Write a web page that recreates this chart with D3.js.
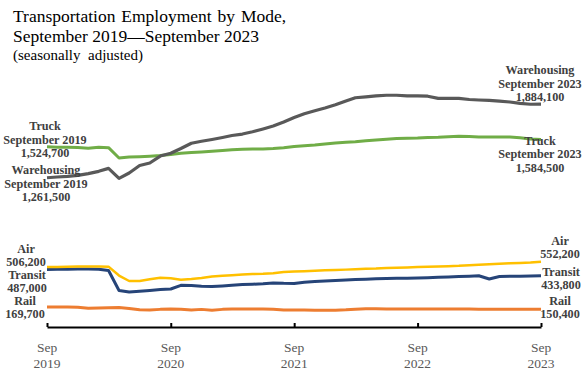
<!DOCTYPE html>
<html>
<head>
<meta charset="utf-8">
<script src="https://cdn.jsdelivr.net/npm/d3@7"></script>
<style>
  html, body { margin: 0; padding: 0; background: #fff; }
  svg { display: block; }
  text { font-family: "Liberation Serif", "Times New Roman", serif; }
</style>
</head>
<body>
<svg id="chart" width="586" height="380"></svg>
<script>
// ---- data (thousands of employees, monthly Sep 2019 - Sep 2023) ----
const startMonth = "2019-09";
const monthCount = 49;
const warehousing = [1261.5,1268,1274,1282,1297,1316,1341,1257,1302,1365,1386,1445,1469,1509,1553,1570,1585,1602,1619,1631,1650,1674,1699,1733,1771,1803,1828,1851,1878,1910,1938,1946,1953,1959,1959,1953,1953,1951,1933,1933,1932,1923,1919,1916,1910,1902,1891,1883,1884.1];
const truck = [1524.7,1520,1520,1517,1511,1520,1516,1429,1437,1440,1444,1450,1458,1468,1475,1480,1486,1492,1498,1502,1505,1505,1509,1516,1526,1532,1538,1547,1555,1561,1566,1574,1581,1587,1593,1596,1598,1602,1604,1608,1613,1610,1606,1606,1606,1606,1599,1589,1584.5];
const air = [506.2,507,509,511,512,512,510,435,389,389,404,416,412,400,406,414,427,434,438,444,448,450,454,465,469,471,475,479,482,485,489,492,494,499,501,504,507,509,511,514,517,522,526,530,534,538,541,545,552.2];
const transit = [487.0,488,489,490,490,489,478,309,296,303,309,316,321,352,350,345,342,347,353,359,362,365,372,369,368,379,385,389,394,397,401,404,407,410,412,413,415,417,420,423,427,430,433,406,427,429,429,431,433.8];
const rail = [169.7,169.7,169.5,166,158,160,162,164,157,145,143,149,152,151,143,149,142,149,152,153,153,153,149,143,143,143,142,142,142,145,150,154,154,153,153,152,152,152,152,152,152,152,151,151,151,151,151,151,150.4];
const tickMonths = ["Sep", "Sep", "Sep", "Sep", "Sep"];
const tickYears = ["2019", "2020", "2021", "2022", "2023"];
const titleLines = ["Transportation Employment by Mode,", "September 2019\u2014September 2023"];
const subtitle = "(seasonally  adjusted)";
const startLabels = {
  truck: ["Truck", "September 2019", "1,524,700"],
  warehousing: ["Warehousing", "September 2019", "1,261,500"],
  air: ["Air", "506,200"],
  transit: ["Transit", "487,000"],
  rail: ["Rail", "169,700"]
};
const endLabels = {
  warehousing: ["Warehousing", "September 2023", "1,884,100"],
  truck: ["Truck", "September 2023", "1,584,500"],
  air: ["Air", "552,200"],
  transit: ["Transit", "433,800"],
  rail: ["Rail", "150,400"]
};

// ---- build ----
const parse = d3.timeParse("%Y-%m");
const t0 = parse(startMonth);
const dates = d3.range(monthCount).map(i => d3.timeMonth.offset(t0, i));
const series = [
  { key: "rail", values: rail, color: "#ED7D31", width: 3 },
  { key: "transit", values: transit, color: "#264478", width: 3 },
  { key: "air", values: air, color: "#FFC000", width: 2.5 },
  { key: "truck", values: truck, color: "#70AD47", width: 3 },
  { key: "warehousing", values: warehousing, color: "#595959", width: 3.2 }
];

const svg = d3.select("#chart");
const x = d3.scaleTime().domain([dates[0], dates[dates.length - 1]]).range([47, 541]);
const y = d3.scaleLinear().domain([0, 2000]).range([327, 90.4]);

const line = d3.line().x((d, i) => x(dates[i])).y(d => y(d));

svg.selectAll("path.series").data(series).join("path")
  .attr("class", "series")
  .attr("fill", "none")
  .attr("stroke", d => d.color)
  .attr("stroke-width", d => d.width)
  .attr("stroke-linejoin", "round")
  .attr("d", d => line(d.values));

// axis
const tickDates = dates.filter(d => d.getMonth() === 8);
const axis = d3.axisBottom(x).tickValues(tickDates).tickSizeInner(-4).tickSizeOuter(0).tickFormat("");
const gAxis = svg.append("g").attr("transform", "translate(0,327)").call(axis);
gAxis.select(".domain").attr("stroke", "#000").attr("stroke-width", 2.2);
gAxis.selectAll(".tick line").attr("stroke", "#000").attr("stroke-width", 2);

const tl = svg.append("g");
tickDates.forEach((d, i) => {
  tl.append("text").attr("x", x(d)).attr("y", 352).attr("text-anchor", "middle")
    .attr("font-size", 13.5).attr("fill", "#595959").text(tickMonths[i]);
  tl.append("text").attr("x", x(d)).attr("y", 368).attr("text-anchor", "middle")
    .attr("font-size", 13.5).attr("fill", "#595959").text(tickYears[i]);
});

// title
svg.append("text").attr("x", 13).attr("y", 22).attr("font-size", 17.5).attr("fill", "#000")
  .attr("word-spacing", 1.5).text(titleLines[0]);
svg.append("text").attr("x", 13).attr("y", 41.5).attr("font-size", 17.5).attr("fill", "#000").text(titleLines[1]);
svg.append("text").attr("x", 13).attr("y", 60).attr("font-size", 15).attr("fill", "#000")
  .attr("xml:space", "preserve").style("white-space", "pre").text(subtitle);

// series labels
function label(lines, cx, baseY, step) {
  const g = svg.append("g");
  lines.forEach((s, i) => {
    g.append("text").attr("x", cx).attr("y", baseY + i * step).attr("text-anchor", "middle")
      .attr("font-size", 12.2).attr("font-weight", "bold").attr("fill", "#404040").text(s);
  });
}
label(startLabels.truck, 45, 130, 13.5);
label(startLabels.warehousing, 46, 174, 13.5);
label(startLabels.air, 26, 253, 13);
label(startLabels.transit, 27, 279, 13);
label(startLabels.rail, 25, 305, 13.3);
label(endLabels.warehousing, 540, 74, 13.5);
label(endLabels.truck, 540, 144.5, 13.8);
label(endLabels.air, 560, 245, 13.3);
label(endLabels.transit, 561, 276, 12.5);
label(endLabels.rail, 560, 305, 13.3);
</script>
</body>
</html>
